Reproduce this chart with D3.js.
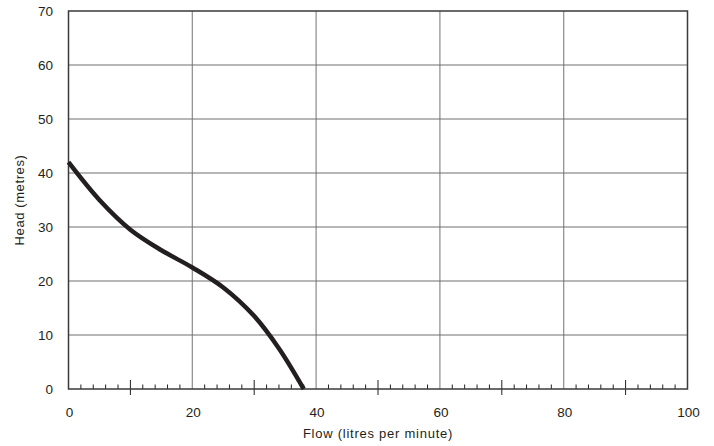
<!DOCTYPE html>
<html><head><meta charset="utf-8">
<script src="https://cdn.jsdelivr.net/npm/d3@7"></script>
<style>body{margin:0;background:#fff}svg{display:block}text{font-family:"Liberation Sans",Arial,sans-serif;fill:#231f20}</style>
</head><body><svg id="c" width="714" height="446"></svg>
<script>
const flow = [0, 5, 10, 15, 20, 25, 30, 34, 38];
const head = [42, 35, 29.5, 25.7, 22.5, 18.8, 13.5, 7.5, 0];
const xTicks = [0, 20, 40, 60, 80, 100];
const yTicks = [0, 10, 20, 30, 40, 50, 60, 70];
const xMid = [10, 30, 50, 70, 90];
const xMinor = d3.range(2, 100, 2).filter(v => v % 10 !== 0);

const svg = d3.select("#c");
const m = {l: 68.5, r: 687.5, t: 11, b: 389};
const x = d3.scaleLinear().domain([0, 100]).range([m.l, m.r]);
const y = d3.scaleLinear().domain([0, 70]).range([m.b, m.t]);

// gridlines
svg.append("g").selectAll("line").data(xTicks.filter(v => v > 0 && v < 100)).join("line")
  .attr("x1", d => x(d)).attr("x2", d => x(d)).attr("y1", m.t).attr("y2", m.b)
  .attr("stroke", "#8a8a8a").attr("stroke-width", 1.2);
svg.append("g").selectAll("line").data(yTicks.filter(v => v > 0 && v < 70)).join("line")
  .attr("x1", m.l).attr("x2", m.r).attr("y1", d => y(d)).attr("y2", d => y(d))
  .attr("stroke", "#6e6e6e").attr("stroke-width", 1);

// minor ticks
svg.append("g").selectAll("line").data(xMinor).join("line")
  .attr("x1", d => x(d)).attr("x2", d => x(d)).attr("y1", m.b - 4.5).attr("y2", m.b)
  .attr("stroke", "#231f20").attr("stroke-width", 1);
svg.append("g").selectAll("line").data(xMid).join("line")
  .attr("x1", d => x(d)).attr("x2", d => x(d)).attr("y1", m.b - 9).attr("y2", m.b + 6)
  .attr("stroke", "#231f20").attr("stroke-width", 1);

// frame
svg.append("rect").attr("x", m.l).attr("y", m.t).attr("width", m.r - m.l).attr("height", m.b - m.t)
  .attr("fill", "none").attr("stroke", "#3a3a3a").attr("stroke-width", 1.5);

// labels
svg.append("g").selectAll("text").data(xTicks).join("text")
  .attr("x", d => x(d) + 1).attr("y", m.b + 28).attr("text-anchor", "middle")
  .attr("font-size", 13.5).text(d => d);
svg.append("g").selectAll("text").data(yTicks).join("text")
  .attr("x", 53).attr("y", d => y(d) + 5).attr("text-anchor", "end")
  .attr("font-size", 13.5).text(d => d);

svg.append("text").attr("x", x(50)).attr("y", 437.5).attr("text-anchor", "middle")
  .attr("font-size", 13).attr("letter-spacing", 0.75).text("Flow (litres per minute)");
svg.append("text").attr("transform", "translate(23.5,200) rotate(-90)").attr("text-anchor", "middle")
  .attr("font-size", 13).attr("letter-spacing", 0.6).text("Head (metres)");

// curve
const line = d3.line().x(d => x(d[0])).y(d => y(d[1])).curve(d3.curveCatmullRom.alpha(0.5));
svg.append("path").datum(flow.map((f, i) => [f, head[i]])).attr("d", line)
  .attr("fill", "none").attr("stroke", "#231f20").attr("stroke-width", 4.5);
</script></body></html>
